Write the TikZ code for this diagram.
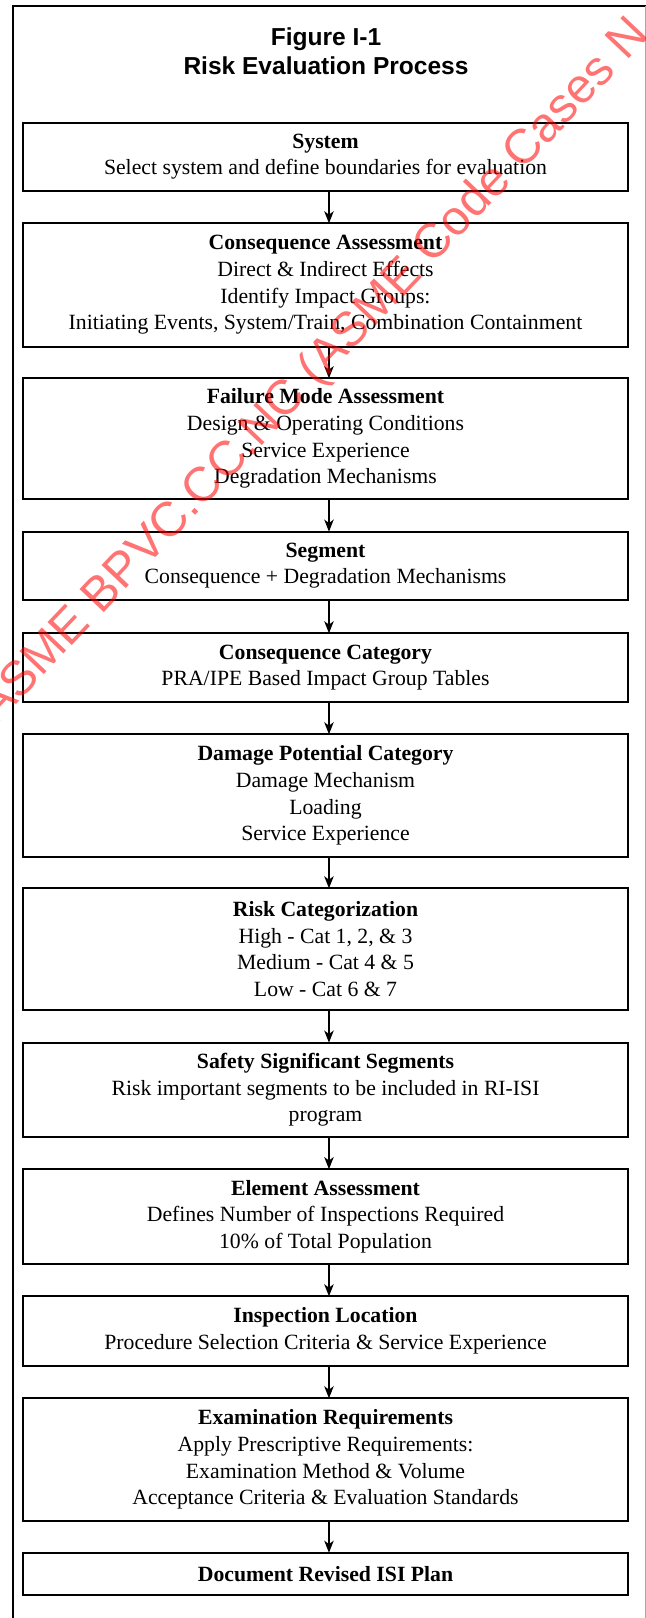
\documentclass[tikz,border=0pt]{standalone}
\usepackage{fontspec}
\setmainfont{Liberation Serif}
\setsansfont{Liberation Sans}
\usetikzlibrary{arrows.meta}
\tikzset{
  stepbox/.style={draw, line width=1.5pt, minimum width=453.3pt, inner sep=0pt, outer sep=0pt,
    align=center, font=\fontsize{16.3}{20}\selectfont},
  arr/.style={line width=1.5pt, -{Stealth[length=9pt,width=7pt,inset=2.5pt]}},
  frameline/.style={line width=1.5pt},
  wmark/.style={rotate=46.5, anchor=base west, text=red, text opacity=0.55,
    font=\sffamily\fontsize{36.5}{36.5}\selectfont, inner sep=0pt},
  titletext/.style={font=\sffamily\bfseries\fontsize{18.4}{21.75}\selectfont, align=center, inner sep=0pt}
}
\begin{document}
\begin{tikzpicture}[x=0.75pt,y=-0.75pt]
\useasboundingbox (0,0) rectangle (646,1618);
\clip (0,0) rectangle (646,1618);
\fill[white] (0,0) rectangle (646,1618);
% frame
\coordinate (ftl) at (13,6);
\coordinate (fbl) at (13,1620);
\coordinate (ftr) at (648,6);
\draw[frameline] (fbl) -- (ftl) -- (ftr);
\coordinate (rt) at (645.5,6);
\coordinate (rb) at (645.5,1618);
\draw[gray!70, line width=0.6pt] (rt) -- (rb);
% title
\node[titletext, anchor=base] (t1) at (326,45) {Figure I-1};
\node[titletext, anchor=base] (t2) at (326,74) {Risk Evaluation Process};
% boxes
\node[stepbox, minimum height=51pt] (b1) at (325.5,156.7)
  {\textbf{System}\\Select system and define boundaries for evaluation};
\node[stepbox, minimum height=92.5pt] (b2) at (325.5,285)
  {\textbf{Consequence Assessment}\\Direct \& Indirect Effects\\Identify Impact Groups:\\Initiating Events, System/Train, Combination Containment};
\node[stepbox, minimum height=90.5pt] (b3) at (325.5,438.6)
  {\textbf{Failure Mode Assessment}\\Design \& Operating Conditions\\Service Experience\\Degradation Mechanisms};
\node[stepbox, minimum height=51.2pt] (b4) at (325.5,565.8)
  {\textbf{Segment}\\Consequence + Degradation Mechanisms};
\node[stepbox, minimum height=51.3pt] (b5) at (325.5,667.5)
  {\textbf{Consequence Category}\\PRA/IPE Based Impact Group Tables};
\node[stepbox, minimum height=91.8pt] (b6) at (325.5,795.5)
  {\textbf{Damage Potential Category}\\Damage Mechanism\\Loading\\Service Experience};
\node[stepbox, minimum height=91.3pt] (b7) at (325.5,949.2)
  {\textbf{Risk Categorization}\\High - Cat 1, 2, \& 3\\Medium - Cat 4 \& 5\\Low - Cat 6 \& 7};
\node[stepbox, minimum height=71pt] (b8) at (325.5,1090)
  {\textbf{Safety Significant Segments}\\Risk important segments to be included in RI-ISI\\program};
\node[stepbox, minimum height=71pt] (b9) at (325.5,1216.5)
  {\textbf{Element Assessment}\\Defines Number of Inspections Required\\10\% of Total Population};
\node[stepbox, minimum height=52pt] (b10) at (325.5,1331)
  {\textbf{Inspection Location}\\Procedure Selection Criteria \& Service Experience};
\node[stepbox, minimum height=91.8pt] (b11) at (325.5,1459.5)
  {\textbf{Examination Requirements}\\Apply Prescriptive Requirements:\\Examination Method \& Volume\\Acceptance Criteria \& Evaluation Standards};
\node[stepbox, minimum height=31.7pt] (b12) at (325.5,1573.9)
  {\textbf{Document Revised ISI Plan}};
% arrows
\foreach \a/\b in {b1/b2,b2/b3,b3/b4,b4/b5,b5/b6,b6/b7,b7/b8,b8/b9,b9/b10,b10/b11,b11/b12}
  \draw[arr] ([xshift=2.6pt]\a.south) -- ([xshift=2.6pt]\b.north);
% watermark
\node[wmark] (wm) at (-3,725) {ASME BPVC.CC.NC (ASME Code Cases N};
\end{tikzpicture}
\end{document}
